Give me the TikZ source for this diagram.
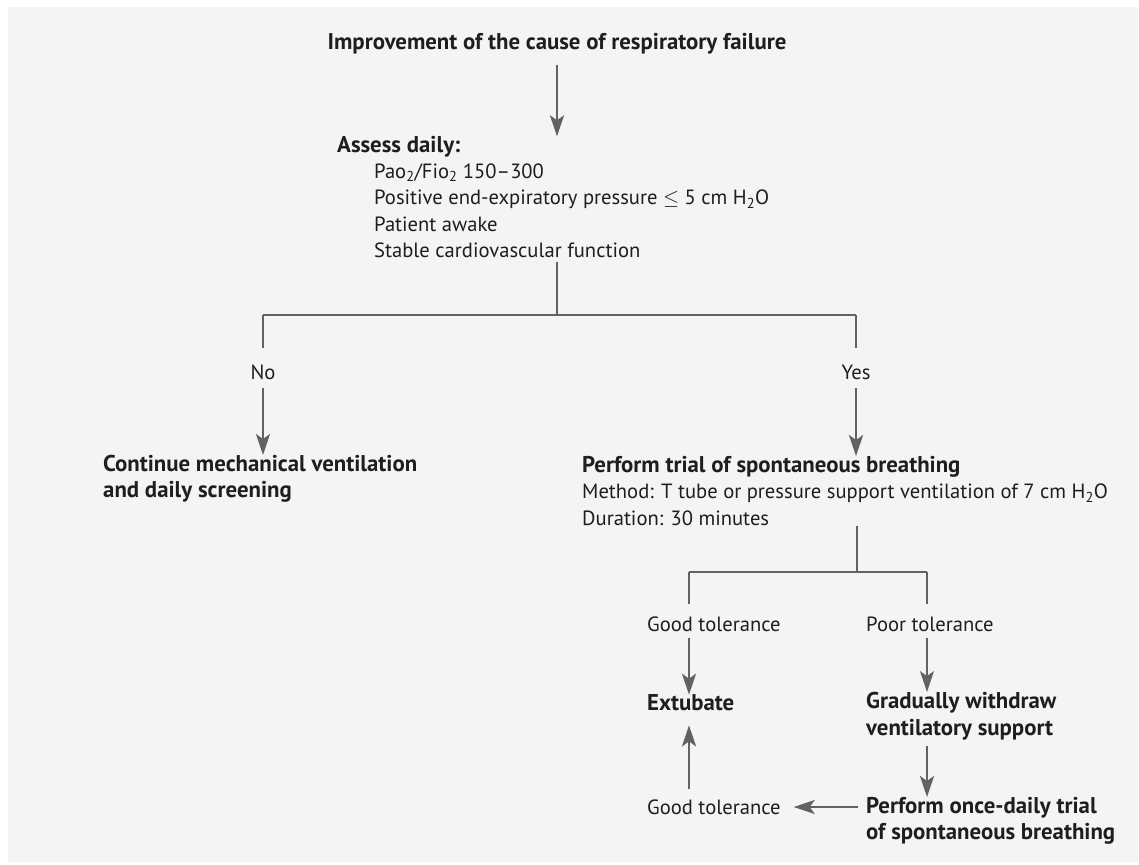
\documentclass[tikz,border=0pt]{standalone}
\usepackage{fontspec}
\setmainfont{PT Sans}
\usepackage{tikz}
\usetikzlibrary{positioning,calc,arrows.meta}

\definecolor{panelgray}{HTML}{F4F4F4}
\definecolor{linegray}{HTML}{626262}
\definecolor{textdark}{HTML}{1E1E1E}

\newcommand{\boldface}{\fontsize{22.8}{26.5}\selectfont\bfseries}

\tikzset{
    txt/.style={inner sep=0pt, text=textdark, align=left, font=\fontsize{20.6}{26.5}\selectfont},
    bold/.style={txt, font=\boldface},
    conn/.style={draw=linegray, line width=1.4pt},
    arr/.style={conn, -{Stealth[length=21pt, width=14pt, inset=5pt]}},
    thickarr/.style={arr, line width=2.8pt},
}

\begin{document}
\begin{tikzpicture}[x=1pt, y=-1pt]
    % Panel
    \useasboundingbox (0,0) rectangle (1139,864);
    \fill[panelgray] (8,7) rectangle (1138,862);

    % Screening
    \node[bold] (cause) at (557,44) {Improvement of the cause of respiratory failure};
    \node[bold, anchor=west] (assess) at (337,147) {Assess daily:};
    \node[txt, anchor=west] (criteria) at (374,211) {Pao\textsubscript{2}/Fio\textsubscript{2} 150--300\\Positive end-expiratory pressure $\le$ 5 cm H\textsubscript{2}O\\Patient awake\\Stable cardiovascular function};
    \draw[thickarr, shorten <=10pt] (cause.south) -- (cause.south |- assess.north);

    % Decision
    \coordinate (split) at (557,315);
    \coordinate (noTop) at (263,315);
    \coordinate (yesTop) at (856,315);
    \node[txt] (no) at (263,372) {No};
    \node[txt] (yes) at (856,372) {Yes};
    \draw[conn, shorten <=4pt] (split |- criteria.south) -- (split);
    \draw[conn] (noTop) -- (yesTop);
    \draw[conn, shorten >=16pt] (noTop) -- (no);
    \draw[conn, shorten >=16pt] (yesTop) -- (yes);

    % No branch
    \node[bold, anchor=west] (continue) at (103,479) {Continue mechanical ventilation\\and daily screening};
    \draw[arr, line width=2pt, shorten <=8pt] (no.south) -- (no.south |- continue.north);

    % Yes branch
    \node[txt, anchor=west] (trial) at (582,491) {{\boldface Perform trial of spontaneous breathing}\\Method: T tube or pressure support ventilation of 7 cm H\textsubscript{2}O\\Duration: 30 minutes};
    \draw[thickarr, shorten <=8pt] (yes.south) -- (yes.south |- trial.north);
    \coordinate (split2) at (857,572);
    \coordinate (goodTop) at (689,572);
    \coordinate (poorTop) at (927,572);
    \draw[conn] (split2 |- trial.south) -- (split2);
    \draw[conn] (goodTop) -- (poorTop);
    \node[txt, anchor=west] (good) at (647,624) {Good tolerance};
    \node[txt, anchor=west] (poor) at (866,624) {Poor tolerance};
    \draw[conn, shorten >=12pt] (goodTop) -- (goodTop |- good.north);
    \draw[conn, shorten >=12pt] (poorTop) -- (poorTop |- poor.north);

    % Weaning
    \node[bold, anchor=west] (extubate) at (647,703) {Extubate};
    \node[bold, anchor=west] (withdraw) at (866,716) {Gradually withdraw\\ventilatory support};
    \node[txt, anchor=west] (good2) at (647,807) {Good tolerance};
    \node[bold, anchor=west] (daily) at (866,821) {Perform once-daily trial\\of spontaneous breathing};
    \draw[thickarr, shorten <=6pt] (goodTop |- good.south) -- (goodTop |- extubate.north);
    \draw[arr, shorten <=6pt] (poorTop |- poor.south) -- (poorTop |- withdraw.north);
    \draw[thickarr, shorten <=6pt] (poorTop |- withdraw.south) -- (poorTop |- daily.north);
    \draw[arr, shorten <=8pt, shorten >=13pt] (daily.west |- good2.east) -- (good2.east);
    \draw[thickarr, shorten <=10pt, shorten >=14pt] (goodTop |- good2.north) -- (goodTop |- extubate.south);
\end{tikzpicture}
\end{document}
